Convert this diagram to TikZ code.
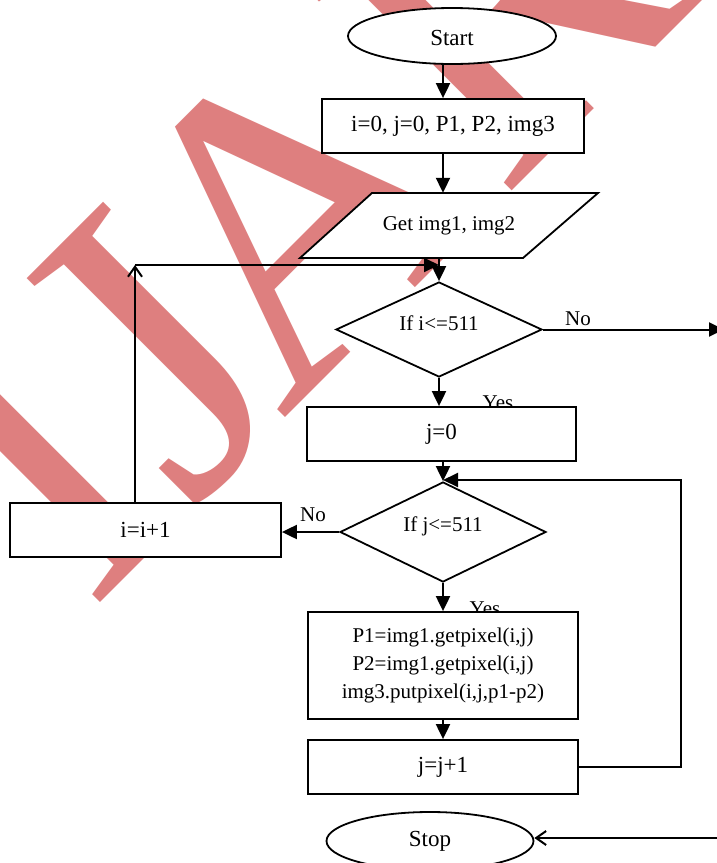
\documentclass[tikz,border=0pt]{standalone}
\usepackage{fontspec}
\setmainfont{Liberation Serif}
\usetikzlibrary{shapes.geometric,arrows.meta}
\definecolor{wm}{RGB}{222,127,127}
\begin{document}
\begin{tikzpicture}[x=1pt,y=-1pt,
  box/.style={draw, line width=1.8pt, fill=white, inner sep=0pt, font=\fontsize{23}{28}\selectfont},
  term/.style={ellipse, draw, line width=1.8pt, fill=white, inner sep=0pt, font=\fontsize{23}{28}\selectfont},
  dec/.style={diamond, draw, line width=1.8pt, fill=white, inner sep=0pt, font=\fontsize{21}{26}\selectfont},
  lbl/.style={inner sep=0pt, font=\fontsize{21}{26}\selectfont},
  arr/.style={line width=2pt, -{Triangle[length=15pt,width=14pt]}},
  openarr/.style={line width=2pt, -{Straight Barb[length=10pt,width=14pt]}}]
\useasboundingbox (0,0) rectangle (716,863);
\fill[white] (0,0) rectangle (716,863);
% watermark
\node[rotate=45, anchor=base west, inner sep=0pt, text=wm, font=\fontsize{429}{429}\selectfont] (wm) at (89,614) {IJ\kern-37pt AR};
% labels
\node[lbl, anchor=base] (no1) at (578,325) {No};
\node[lbl, anchor=base] (yes1) at (498,409) {Yes};
\node[lbl, anchor=base] (no2) at (313,521) {No};
\node[lbl, anchor=base] (yes2) at (485,615) {Yes};
% shapes
\node[term, minimum width=208pt, minimum height=56pt] (start) at (452,36) {\raisebox{-2pt}[\height][\depth]{Start}};
\node[box, minimum width=262pt, minimum height=54pt] (init) at (453,126) {i=0, j=0, P1, P2, img3};
\draw[line width=1.8pt, fill=white] (372,193) -- (598,193) -- (523,258) -- (300,258) -- cycle;
\node[inner sep=0pt, minimum width=150pt, minimum height=65pt, font=\fontsize{21}{26}\selectfont] (get) at (449,225.5) {Get img1, img2};
\node[dec, minimum width=206pt, minimum height=95pt] (d1) at (439,329.5) {\raisebox{6pt}[\height][\depth]{If i<=511}};
\node[box, minimum width=269pt, minimum height=54pt] (j0) at (441.5,434) {j=0};
\node[dec, minimum width=206pt, minimum height=100pt] (d2) at (443,532) {\raisebox{6pt}[\height][\depth]{If j<=511}};
\node[box, minimum width=271pt, minimum height=54pt] (ii) at (145.5,530) {i=i+1};
\node[box, minimum width=270pt, minimum height=107pt, align=center, font=\fontsize{21}{28}\selectfont] (p) at (443,665.5) {P1=img1.getpixel(i,j)\\P2=img1.getpixel(i,j)\\img3.putpixel(i,j,p1-p2)};
\node[box, minimum width=270pt, minimum height=54pt] (jj) at (443,767) {j=j+1};
\node[term, minimum width=207pt, minimum height=58pt] (stop) at (430,841) {Stop};
% connectors
\coordinate (ax) at (443,0);
\draw[arr] (start.south -| ax) -- (init.north -| ax);
\draw[arr] (init.south -| ax) -- (get.north -| ax);
\draw[arr] (get.south -| d1.north) -- (d1.north);
\coordinate (lp) at (135,265);
\draw[openarr] (ii.north -| lp) -- (lp);
\draw[arr] (lp) -- (lp -| d1.north);
\coordinate (out1) at (724,329.5);
\draw[arr] (d1.east) -- (out1);
\draw[arr] (d1.south) -- (d1.south |- j0.north);
\draw[arr] (j0.south -| d2.north) -- (d2.north);
\draw[arr] (d2.west) -- (d2.west -| ii.east);
\draw[arr] (d2.south) -- (p.north);
\draw[arr] (p.south) -- (jj.north);
\coordinate (lp2) at (681,480);
\draw[arr] (jj.east) -| (lp2) -- (lp2 -| d2.north);
\coordinate (in2) at (724,838);
\draw[openarr] (in2) -- (in2 -| stop.east);
\end{tikzpicture}
\end{document}
